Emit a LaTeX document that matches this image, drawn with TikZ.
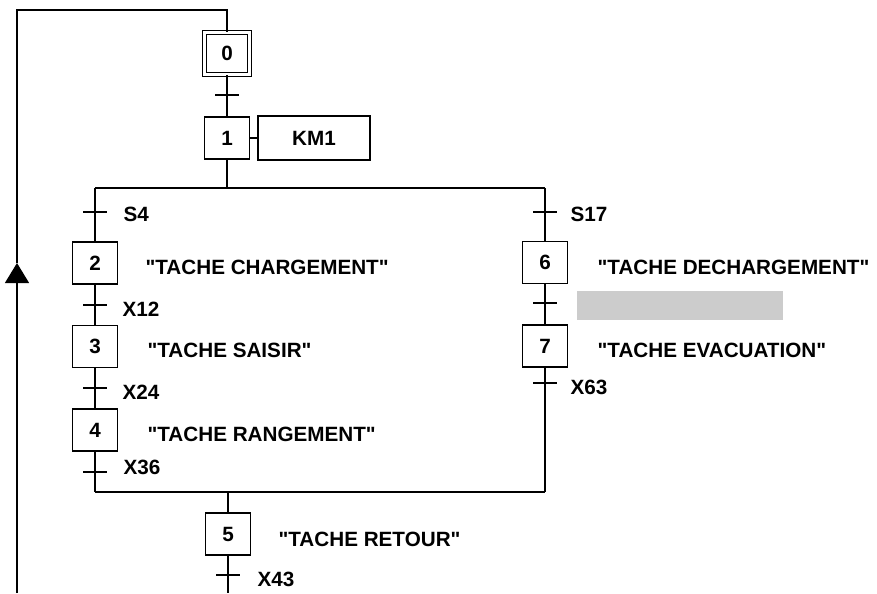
\documentclass[tikz,border=0pt]{standalone}
\usepackage{fontspec}
\setmainfont{Liberation Sans}[Ligatures=TeXOff]
\usetikzlibrary{arrows.meta}

\begin{document}
\begin{tikzpicture}[x=0.75pt,y=-0.75pt,line width=0.9pt,
  every node/.style={font=\fontsize{15.5}{18}\selectfont\bfseries},
  etape/.style={draw,minimum width=33.75pt,minimum height=31.5pt,inner sep=0pt},
  action/.style={anchor=west,inner sep=0pt},
  recep/.style={anchor=west,inner sep=0pt}]
\useasboundingbox (0,0) rectangle (877,593);
\node[etape,double,double distance=2.4pt] (e0) at (227,53.5) {0};
\node[etape] (e1) at (227,138) {1};
\node[draw,minimum width=84pt,minimum height=33pt] (km1) at (314,138) {KM1};
\node[etape] (e2) at (95,263) {2};
\node[etape] (e3) at (95,346.5) {3};
\node[etape] (e4) at (95,430) {4};
\node[etape] (e6) at (545,262.5) {6};
\node[etape] (e7) at (545,346) {7};
\node[etape] (e5) at (228,534) {5};
\node[action] (a2) at (145,267) {"TACHE CHARGEMENT"};
\node[action] (a3) at (147,350) {"TACHE SAISIR"};
\node[action] (a4) at (147,434) {"TACHE RANGEMENT"};
\node[action] (a6) at (597,267) {"TACHE DECHARGEMENT"};
\node[action] (a7) at (597,350) {"TACHE EVACUATION"};
\node[action] (a5) at (278,539) {"TACHE RETOUR"};
\node[fill=gray!40,minimum width=154.5pt,minimum height=21.75pt,inner sep=0pt] (masque) at (680,305.5) {};
\coordinate (t01) at (227,95);
\coordinate (t12) at (95,212);
\coordinate (t23) at (95,305);
\coordinate (t34) at (95,388);
\coordinate (t45) at (95,472);
\coordinate (t16) at (545,212);
\coordinate (t67) at (545,303);
\coordinate (t75) at (545,383);
\coordinate (t50) at (228,575);
\node[recep] (r12) at (123,214) {S4};
\node[recep] (r23) at (122,309) {X12};
\node[recep] (r34) at (122,392) {X24};
\node[recep] (r45) at (123,467) {X36};
\node[recep] (r16) at (570,214) {S17};
\node[recep] (r75) at (570,387) {X63};
\node[recep] (r50) at (257,579) {X43};
\coordinate (div) at (227,188);
\coordinate (gd) at (95,188);
\coordinate (dd) at (545,188);
\coordinate (gc) at (95,492);
\coordinate (dc) at (545,492);
\coordinate (conv) at (228,492);
\coordinate (bas) at (228,593);
\coordinate (retour) at (17,593);
\coordinate (fleche) at (17,263);
\coordinate (haut) at (227,10);
\draw (e0) -- (e1);
\draw (e1) -- (km1);
\draw (e1) -- (div);
\draw (gd) -- (dd);
\draw (gd) -- (e2);
\draw (e2) -- (e3);
\draw (e3) -- (e4);
\draw (e4) -- (gc);
\draw (dd) -- (e6);
\draw (e6) -- (e7);
\draw (e7) -- (dc);
\draw (gc) -- (dc);
\draw (conv) -- (e5);
\draw (e5) -- (bas);
\draw[-{Triangle[width=18pt,length=15pt]}] (retour) -- (fleche);
\draw (fleche) |- (haut) -- (e0);
\foreach \t in {t01,t12,t23,t34,t45,t16,t67,t75,t50}
  \draw ([xshift=-9pt]\t) -- ([xshift=9pt]\t);
\end{tikzpicture}
\end{document}
